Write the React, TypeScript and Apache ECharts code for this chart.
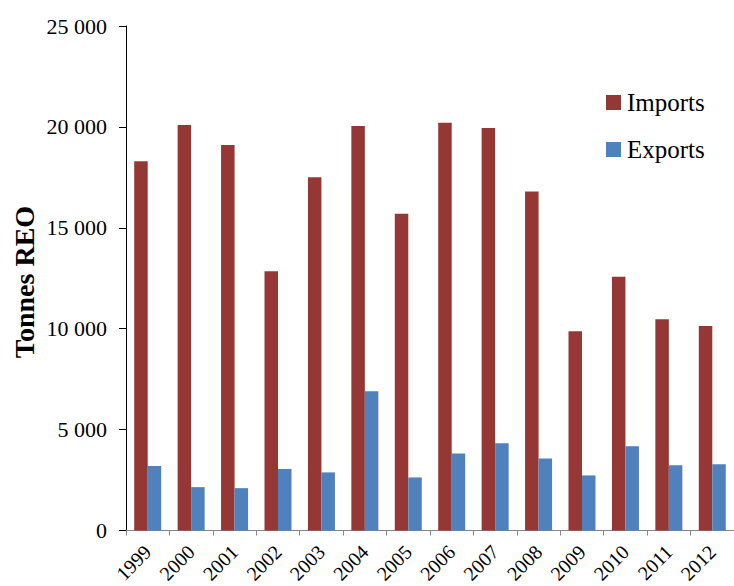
import React, { useEffect, useRef } from "react";
import * as echarts from "echarts";

const years = ["1999","2000","2001","2002","2003","2004","2005","2006","2007","2008","2009","2010","2011","2012"];
const imports = [18300, 20100, 19100, 12850, 17500, 20050, 15700, 20200, 19950, 16800, 9880, 12570, 10470, 10130];
const exportsData = [3200, 2150, 2100, 3050, 2880, 6900, 2630, 3820, 4330, 3570, 2730, 4170, 3240, 3280];
const yTicks = { min: 0, max: 25000, interval: 5000 };

const FONT = "'Liberation Serif', 'Times New Roman', serif";

function fmt(v: number): string {
  if (v === 0) return "0";
  const s = String(v);
  return s.replace(/\B(?=(\d{3})+(?!\d))/g, " ");
}

export default function App() {
  const ref = useRef<HTMLDivElement>(null);
  useEffect(() => {
    document.body.style.margin = "0";
    const chart = echarts.init(ref.current!, null, { renderer: "svg" });
    chart.setOption({
      animation: false,
      backgroundColor: "#ffffff",
      grid: { left: 126, top: 26, bottom: 54, right: -7, containLabel: false },
      legend: {
        orient: "vertical",
        left: 606,
        top: 90,
        padding: 0,
        itemWidth: 15,
        itemHeight: 15,
        itemGap: 22,
        icon: "rect",
        textStyle: { fontFamily: FONT, fontSize: 25, color: "#000", lineHeight: 25, padding: [0, 0, 0, 1] },
        data: ["Imports", "Exports"],
      },
      graphic: [
        {
          type: "text",
          x: 24,
          y: 282,
          rotation: Math.PI / 2,
          style: {
            text: "Tonnes REO",
            fontFamily: FONT,
            fontSize: 28,
            fontWeight: "bold",
            fill: "#000",
            align: "center",
            verticalAlign: "middle",
          },
        },
      ],
      xAxis: {
        type: "category",
        data: years,
        boundaryGap: true,
        axisLine: { show: true, lineStyle: { color: "#868686", width: 1 } },
        axisTick: { show: true, length: 5, lineStyle: { color: "#868686" }, alignWithLabel: false },
        axisLabel: {
          rotate: 45,
          margin: 18,
          fontFamily: FONT,
          fontSize: 20,
          color: "#000",
          interval: 0,
        },
        splitLine: { show: false },
      },
      yAxis: {
        type: "value",
        min: yTicks.min,
        max: yTicks.max,
        interval: yTicks.interval,
        axisLine: { show: true, lineStyle: { color: "#000", width: 1 } },
        axisTick: { show: true, length: 7, lineStyle: { color: "#000" } },
        axisLabel: {
          margin: 19,
          fontFamily: FONT,
          fontSize: 22,
          color: "#000",
          formatter: (v: number) => fmt(v),
        },
        splitLine: { show: false },
      },
      series: [
        {
          name: "Imports",
          type: "bar",
          data: imports,
          barWidth: 13.5,
          barGap: "0%",
          itemStyle: { color: "#953735" },
        },
        {
          name: "Exports",
          type: "bar",
          data: exportsData,
          barWidth: 13.5,
          barGap: "0%",
          itemStyle: { color: "#4F81BD" },
        },
      ],
    });
    return () => chart.dispose();
  }, []);
  return <div ref={ref} style={{ position: "absolute", left: 0, top: 0, width: 734, height: 586 }} />;
}
